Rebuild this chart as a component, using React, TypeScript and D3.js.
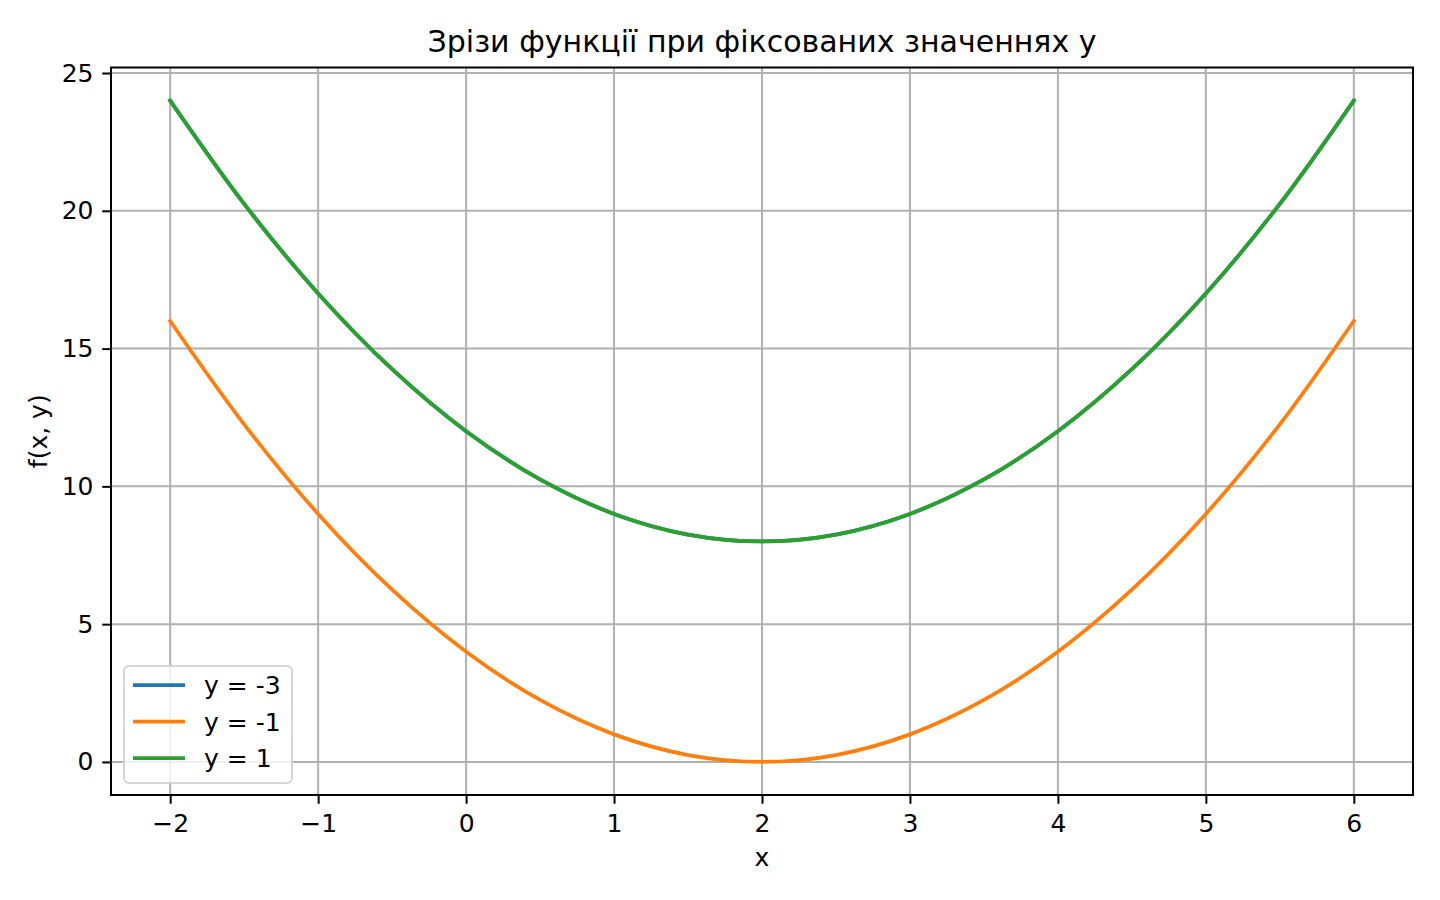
import React, { useRef, useEffect } from 'react';
import * as d3 from 'd3';

// x samples (every 0.5)
const xValues = [-2, -1.5, -1, -0.5, 0, 0.5, 1, 1.5, 2, 2.5, 3, 3.5, 4, 4.5, 5, 5.5, 6];

// f(x, y) for each fixed y
const yMinus3 = [24, 20.25, 17, 14.25, 12, 10.25, 9, 8.25, 8, 8.25, 9, 10.25, 12, 14.25, 17, 20.25, 24];
const yMinus1 = [16, 12.25, 9, 6.25, 4, 2.25, 1, 0.25, 0, 0.25, 1, 2.25, 4, 6.25, 9, 12.25, 16];
const yPlus1 = [24, 20.25, 17, 14.25, 12, 10.25, 9, 8.25, 8, 8.25, 9, 10.25, 12, 14.25, 17, 20.25, 24];

const seriesLabels = ['y = -3', 'y = -1', 'y = 1'];
const seriesColors = ['#1f77b4', '#ff7f0e', '#2ca02c'];

const xTicks = [-2, -1, 0, 1, 2, 3, 4, 5, 6];
const yTicks = [0, 5, 10, 15, 20, 25];

const App: React.FC = () => {
  const svgRef = useRef<SVGSVGElement>(null);
  const width = 1440;
  const height = 900;

  useEffect(() => {
    if (!svgRef.current) return;
    const svg = d3.select(svgRef.current);
    svg.selectAll('*').remove();

    const font = 'DejaVu Sans, sans-serif';
    const left = 111, right = 1413, top = 67.5, bottom = 795;

    const x = d3.scaleLinear().domain([-2.4, 6.4]).range([left, right]);
    const y = d3.scaleLinear().domain([-1.2, 25.2]).range([bottom, top]);

    svg.append('rect').attr('width', width).attr('height', height).attr('fill', '#fff');

    // grid
    const grid = svg.append('g');
    xTicks.forEach(t => {
      grid.append('line')
        .attr('x1', x(t)).attr('x2', x(t))
        .attr('y1', top).attr('y2', bottom)
        .attr('stroke', '#b0b0b0').attr('stroke-width', 2);
    });
    yTicks.forEach(t => {
      grid.append('line')
        .attr('x1', left).attr('x2', right)
        .attr('y1', y(t)).attr('y2', y(t))
        .attr('stroke', '#b0b0b0').attr('stroke-width', 2);
    });

    // lines
    const series = [yMinus3, yMinus1, yPlus1];
    const line = d3.line<number>()
      .x((_, i) => x(xValues[i]))
      .y(d => y(d))
      .curve(d3.curveCatmullRom.alpha(0.5));

    series.forEach((s, i) => {
      svg.append('path')
        .datum(s)
        .attr('d', line)
        .attr('fill', 'none')
        .attr('stroke', seriesColors[i])
        .attr('stroke-width', 3.75)
        .attr('stroke-linecap', 'square');
    });

    // axes
    const xAxis = svg.append('g')
      .attr('transform', `translate(0,${bottom})`)
      .call(d3.axisBottom(x).tickValues(xTicks).tickSize(8.75).tickPadding(8.75).tickFormat(d3.format('d')));
    const yAxis = svg.append('g')
      .attr('transform', `translate(${left},0)`)
      .call(d3.axisLeft(y).tickValues(yTicks).tickSize(8.75).tickPadding(8.75).tickFormat(d3.format('d')));

    [xAxis, yAxis].forEach(a => {
      a.select('.domain').remove();
      a.selectAll('.tick line').attr('stroke', '#000').attr('stroke-width', 2);
      a.selectAll('.tick text')
        .attr('font-family', font)
        .attr('font-size', 25)
        .attr('fill', '#000');
    });
    xAxis.selectAll('.tick text').attr('dy', '0.76em');

    // frame
    svg.append('rect')
      .attr('x', left).attr('y', top)
      .attr('width', right - left).attr('height', bottom - top)
      .attr('fill', 'none').attr('stroke', '#000').attr('stroke-width', 2);

    // labels
    svg.append('text')
      .attr('x', (left + right) / 2).attr('y', 52)
      .attr('text-anchor', 'middle')
      .attr('font-family', font).attr('font-size', 30)
      .text('Зрізи функції при фіксованих значеннях y');

    svg.append('text')
      .attr('x', (left + right) / 2).attr('y', 866)
      .attr('text-anchor', 'middle')
      .attr('font-family', font).attr('font-size', 25)
      .text('x');

    svg.append('text')
      .attr('transform', `translate(47,${(top + bottom) / 2}) rotate(-90)`)
      .attr('text-anchor', 'middle')
      .attr('font-family', font).attr('font-size', 25)
      .text('f(x, y)');

    // legend
    const legend = svg.append('g');
    legend.append('rect')
      .attr('x', 124).attr('y', 666)
      .attr('width', 168).attr('height', 117)
      .attr('rx', 5)
      .attr('fill', 'rgba(255,255,255,0.8)')
      .attr('stroke', 'rgba(204,204,204,0.8)')
      .attr('stroke-width', 2);

    seriesLabels.forEach((label, i) => {
      const ly = 685 + i * 36.5;
      legend.append('line')
        .attr('x1', 133).attr('x2', 185)
        .attr('y1', ly).attr('y2', ly)
        .attr('stroke', seriesColors[i])
        .attr('stroke-width', 3.75);
      legend.append('text')
        .attr('x', 204).attr('y', ly + 9)
        .attr('font-family', font).attr('font-size', 25)
        .text(label);
    });
  }, []);

  return (
    <svg
      ref={svgRef}
      width={width}
      height={height}
      style={{ position: 'absolute', left: 0, top: 0 }}
    />
  );
};

export default App;
